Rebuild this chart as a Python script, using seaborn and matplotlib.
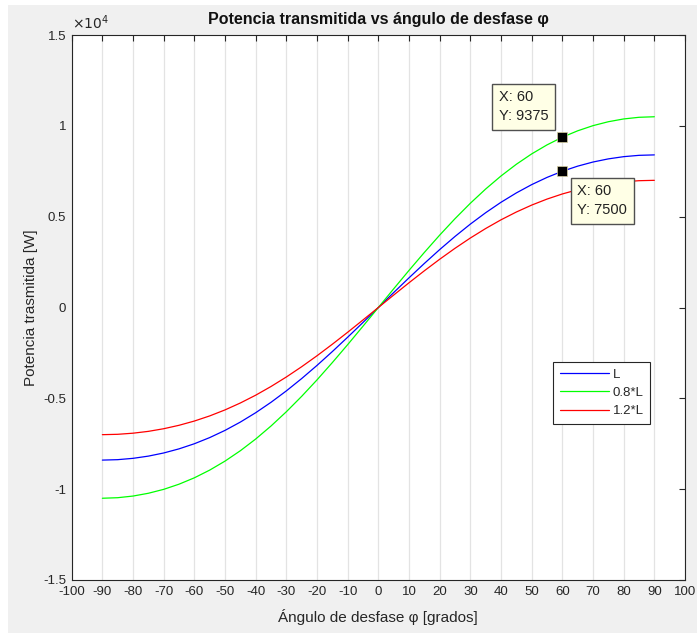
import matplotlib
matplotlib.use("Agg")
import matplotlib.pyplot as plt
import seaborn as sns
import pandas as pd
from matplotlib.patches import Rectangle
from matplotlib.lines import Line2D

# ---- data ----
angles = [-90, -85, -80, -75, -70, -65, -60, -55, -50, -45, -40, -35, -30, -25, -20, -15, -10, -5, 0,
          5, 10, 15, 20, 25, 30, 35, 40, 45, 50, 55, 60, 65, 70, 75, 80, 85, 90]
p_L = [-8400, -8376, -8303, -8181, -8008, -7781, -7500, -7161, -6764, -6307, -5792, -5218, -4590,
       -3911, -3187, -2425, -1634, -822, 0,
       822, 1634, 2425, 3187, 3911, 4590, 5218, 5792, 6307, 6764, 7161, 7500, 7781, 8008,
       8181, 8303, 8376, 8400]
p_08L = [-10500, -10470, -10379, -10226, -10010, -9726, -9375, -8951, -8455, -7884, -7240, -6523,
         -5738, -4889, -3984, -3031, -2043, -1028, 0,
         1028, 2043, 3031, 3984, 4889, 5738, 6523, 7240, 7884, 8455, 8951, 9375, 9726, 10010,
         10226, 10379, 10470, 10500]
p_12L = [-7000, -6980, -6919, -6818, -6673, -6484, -6250, -5968, -5637, -5256, -4827, -4348,
         -3825, -3259, -2656, -2021, -1362, -685, 0,
         685, 1362, 2021, 2656, 3259, 3825, 4348, 4827, 5256, 5637, 5968, 6250, 6484, 6673,
         6818, 6919, 6980, 7000]
series_names = ["L", "0.8*L", "1.2*L"]
series_colors = ["#0000ff", "#00ff00", "#ff0000"]
xticks = list(range(-100, 101, 10))
yticks = [-15000, -10000, -5000, 0, 5000, 10000, 15000]
ytick_labels = ["-1.5", "-1", "-0.5", "0", "0.5", "1", "1.5"]
tip_x = [60, 60]
tip_y = [9375, 7500]

df = pd.DataFrame({
    "angle": angles * 3,
    "P": p_L + p_08L + p_12L,
    "serie": [series_names[0]] * len(angles) + [series_names[1]] * len(angles) + [series_names[2]] * len(angles),
})

sns.set_style("white")
plt.rcParams["font.family"] = ["Liberation Sans", "DejaVu Sans"]

W, H = 699, 633
fig = plt.figure(figsize=(W / 100, H / 100), dpi=100)
fig.patch.set_facecolor("white")
fig.patches.append(Rectangle((8 / W, 0), (697 - 8) / W, 1 - 5 / H, transform=fig.transFigure,
                             facecolor="#f0f0f0", edgecolor="none", zorder=-10))

ax = fig.add_axes([71.7 / W, 1 - 580 / H, (685 - 71.7) / W, (580 - 35) / H])
ax.set_facecolor("white")

sns.lineplot(data=df, x="angle", y="P", hue="serie", hue_order=series_names,
             palette=dict(zip(series_names, series_colors)), linewidth=0.9,
             ax=ax, legend=False, estimator=None, sort=True)

ax.set_xlim(-100, 100)
ax.set_ylim(-15000, 15000)
ax.set_xticks(xticks)
ax.set_xticklabels([str(t) for t in xticks])
ax.set_yticks(yticks)
ax.set_yticklabels(ytick_labels)
ax.grid(axis="x", color="#e3e3e3", linewidth=0.9)
ax.grid(axis="y", visible=False)
ax.set_axisbelow(True)

axis_col = "#262626"
for s in ax.spines.values():
    s.set_color(axis_col)
    s.set_linewidth(0.8)
ax.tick_params(axis="both", which="both", direction="in", length=4, width=0.8,
               colors=axis_col, labelsize=9.5, top=True, right=True, pad=4)
for lbl in ax.get_xticklabels() + ax.get_yticklabels():
    lbl.set_color(axis_col)

ax.set_xlabel("Ángulo de desfase φ [grados]", fontsize=11, color=axis_col, labelpad=8)
ax.set_ylabel("Potencia trasmitida [W]", fontsize=11, color=axis_col, labelpad=4)
ax.set_title("Potencia transmitida vs ángulo de desfase φ", fontsize=11.5, fontweight="bold",
             color="#111111", pad=8)
ax.text(0.0, 1.005, r"$\times10^{4}$", transform=ax.transAxes, fontsize=10,
        color=axis_col, ha="left", va="bottom")

# legend
handles = [Line2D([], [], color=c, lw=0.9) for c in series_colors]
leg = ax.legend(handles, series_names, loc="upper left", bbox_to_anchor=(0.785, 0.400),
                fontsize=9.5, frameon=True, fancybox=False, handlelength=3.7,
                borderpad=0.5, labelspacing=0.45, handletextpad=0.3, borderaxespad=0)
leg.get_frame().set_edgecolor(axis_col)
leg.get_frame().set_linewidth(0.8)
leg.get_frame().set_alpha(1)

# data tips
ax.plot(tip_x, tip_y, linestyle="none", marker="s", markersize=7.5,
        markerfacecolor="black", markeredgecolor="#d8d0a0", markeredgewidth=0.5, zorder=5)
tip_box = dict(boxstyle="square,pad=0.45", facecolor="#ffffe6", edgecolor="#505050", linewidth=1.0)
ax.annotate(f"X: {tip_x[0]}\nY: {tip_y[0]}", xy=(tip_x[0], tip_y[0]), xytext=(-14, 14),
            textcoords="offset pixels", ha="right", va="bottom", multialignment="left",
            fontsize=10.5, color="#222222", bbox=tip_box, linespacing=1.45, zorder=6)
ax.annotate(f"X: {tip_x[1]}\nY: {tip_y[1]}", xy=(tip_x[1], tip_y[1]), xytext=(15, -13),
            textcoords="offset pixels", ha="left", va="top", multialignment="left",
            fontsize=10.5, color="#222222", bbox=tip_box, linespacing=1.45, zorder=6)

fig.savefig("out.png", dpi=100, facecolor=fig.get_facecolor())
